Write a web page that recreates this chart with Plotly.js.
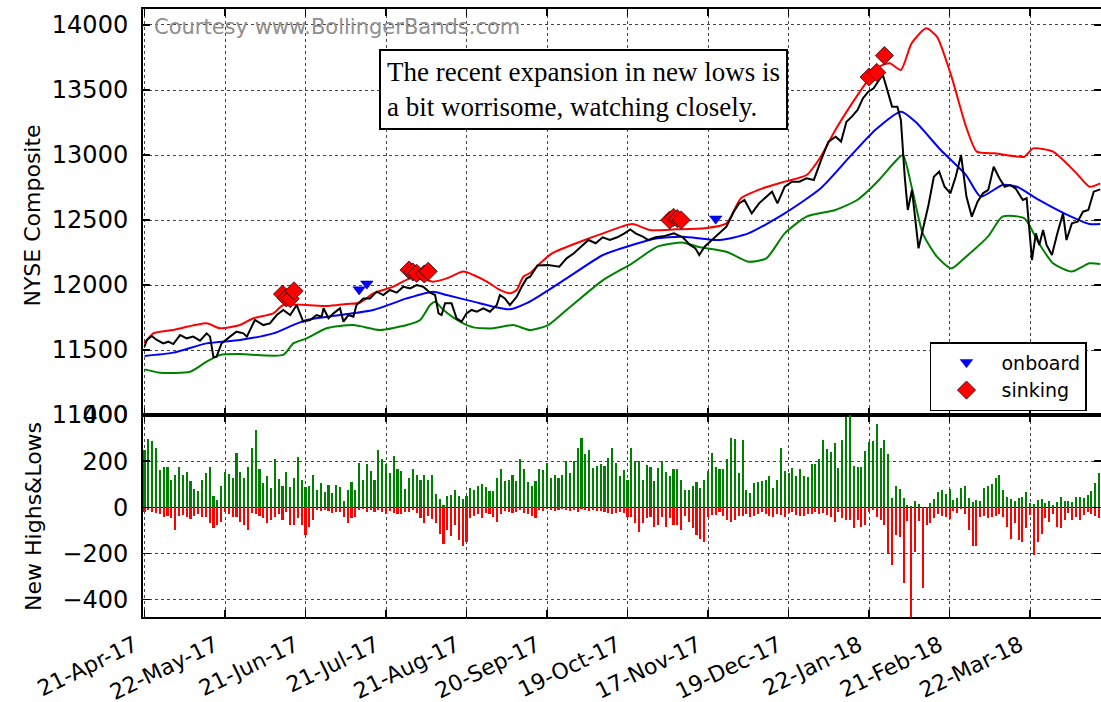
<!DOCTYPE html>
<html>
<head>
<meta charset="utf-8">
<script src="https://cdn.plot.ly/plotly-3.0.1.min.js"></script>
<style>
html,body{margin:0;padding:0;overflow:hidden;background:#fff;}
#chart{width:1110px;height:702px;}
</style>
</head>
<body>
<div id="chart"></div>
<script>
// ---- tick labels (trading-day index -> date label) ----
const tickIdx = [0, 21, 42, 63, 84, 105, 126, 147, 168, 189, 210, 231];
const tickLabels = ["21-Apr-17","22-May-17","21-Jun-17","21-Jul-17","21-Aug-17","20-Sep-17",
                    "19-Oct-17","17-Nov-17","19-Dec-17","22-Jan-18","21-Feb-18","22-Mar-18"];

// ---- NYSE Composite close (read at trading-day positions) ----
const priceX = [0,0.6,1.9,3.2,4.9,6.2,7.5,9.3,11,12.7,14.5,16.2,17.1,18,18.8,20.1,22.3,24,25.8,26.7,
28.8,31,32.7,34.5,36.2,38,39.7,40.6,41.4,43.2,44.9,46.2,46.7,48,49.3,51,51.9,53.2,54.5,55.3,
57.1,58.8,60.6,62.3,64,65.8,67.5,69.3,71,72.7,74.5,75.8,76.7,77.5,78.4,80.1,81.4,82.7,84,85.3,
86.7,88.4,90.1,91.9,92.7,94,95.3,97.1,98.4,99.7,100.6,102.5,105.3,108.2,110.1,112,113.9,115.8,117.7,119.5,
121.4,123.3,125.2,126.7,128.1,130,131.4,133.3,135.7,138.1,140.4,142.3,143.7,144.7,146.1,148,149.9,151.8,153.7,155.1,
156.5,158.4,160.3,162.2,163.7,165.1,167,168.9,170.8,172.7,174.6,176.5,178.4,180.3,181.7,183.1,184.5,186,187.4,188.8,
190.2,191.6,192.6,193.5,195,196.4,197.3,198.3,199.1,200.2,201.9,203,204.5,205.9,207.3,208.7,210.2,211.6,213,214.4,
215.8,217.3,218.7,220.1,221.5,223,224.4,225.8,227.2,229.1,230.1,231.5,232.5,233.4,234.4,235.3,236.7,238.1,239.6,240.5,
241.9,243.4,244.8,246.2,247.6,249.3];
const priceY = [11526,11577,11608,11577,11551,11564,11546,11615,11590,11603,11572,11628,11603,11444,11449,11551,11603,11641,11628,11603,
11731,11692,11705,11769,11808,11769,11846,11782,11718,11731,11769,11756,11821,11744,11782,11821,11718,11769,11756,11846,
11897,11897,11949,11923,11962,11941,11987,11974,12000,11987,11941,11923,11782,11769,11859,11859,11744,11718,11782,11808,
11795,11821,11795,11846,11923,11897,11846,11910,11987,12051,12064,12150,12154,12141,12205,12244,12295,12346,12321,12367,
12346,12367,12397,12428,12397,12372,12346,12367,12377,12397,12367,12308,12282,12231,12295,12346,12397,12449,12564,12628,
12654,12551,12628,12680,12718,12628,12756,12795,12795,12821,12808,12962,13103,13141,13103,13256,13295,13346,13436,13487,
13513,13577,13615,13526,13372,13372,13269,12833,12577,12731,12282,12423,12615,12833,12872,12756,12705,12833,13000,12680,
12526,12641,12705,12731,12910,12821,12756,12769,12744,12654,12667,12192,12397,12308,12423,12308,12231,12397,12551,12346,
12474,12487,12564,12577,12718,12736];

// ---- Bollinger bands ----
const upperX = [0,2.3,7.5,16.2,19.7,24.9,28.4,33.6,36.2,42.3,47.5,52.7,56.2,59.7,64.9,69.3,73.6,75.3,78.8,83.2,
85.8,89.3,92.7,95.3,97.1,98.8,100.5,103.2,106.3,114.8,119.6,127.2,131.9,138.5,146.1,151.8,155.6,161.3,167,172.7,
176.4,180.2,184,187.8,191.6,194.4,197.3,200.1,203.9,206.7,210.5,214.3,217.1,221.9,229.5,231.8,237,242.7,246.5,249.3];
const upperY = [11551,11628,11654,11705,11667,11692,11744,11782,11846,11846,11838,11854,11864,11936,11987,12051,12038,12026,12051,12103,
12077,12026,11962,11936,11962,12064,12090,12167,12244,12346,12397,12469,12423,12428,12436,12474,12667,12744,12795,12846,
12987,13192,13372,13538,13679,13705,13654,13859,13974,13910,13603,13218,13026,13013,12987,13051,13026,12872,12756,12782];

const midX = [0,7.5,16.2,24.9,33.6,38.8,42.3,51,59.7,68.4,75.3,78.8,85.8,91,95.3,99.7,103.2,110.1,119.6,127.2,
133.8,140.5,150,157.5,167,176.4,184,190.6,197.3,201.1,207.7,214.3,218.1,223.8,227.6,233.3,239.9,246.5,249.3];
const midY = [11454,11480,11551,11577,11628,11692,11731,11769,11808,11897,11949,11923,11872,11833,11813,11860,11920,12051,12231,12308,
12359,12372,12346,12397,12551,12744,12987,13192,13333,13256,13038,12846,12680,12769,12756,12654,12551,12469,12469];

const lowerX = [0,4,11.9,16.2,19.7,24.9,36.2,38.8,42.3,47.5,54.5,61.4,68.4,71.9,74.5,75.8,78,82.3,85.8,91,
96.2,100.5,105.3,110.1,119.6,127.2,133.8,140.5,144.3,151.8,157.5,162.2,167,172.7,180.2,185.9,191.6,195.4,197.8,200.1,
203,206.7,210.5,214.3,220,223.8,229.5,233.3,237,241.8,246.5,249.3];
const lowerY = [11351,11326,11333,11410,11462,11469,11462,11551,11590,11667,11692,11654,11692,11731,11846,11872,11808,11718,11674,11667,
11692,11654,11692,11808,12038,12167,12295,12326,12295,12256,12179,12205,12397,12526,12577,12654,12808,12936,13000,12756,
12397,12218,12128,12218,12372,12526,12513,12321,12167,12103,12167,12162];

// ---- signals ----
const onboardX = [56, 58, 149];
const onboardY = [11965, 12010, 12510];
const sinkingX = [36, 37, 38, 39, 69, 70, 71, 73, 74, 137, 138, 139, 140, 189, 191, 193];
const sinkingY = [11930, 11900, 11895, 11955, 12115, 12100, 12090, 12085, 12105, 12500, 12520, 12510, 12500, 13600, 13635, 13765];

// ---- new highs / new lows (one per trading day, index 0..249) ----
const newHighs = [249,296,286,259,160,176,176,117,142,176,
139,154,116,81,69,120,147,176,47,32,
94,152,145,127,237,152,127,176,259,337,
164,105,135,84,208,123,94,152,88,127,
218,117,88,91,142,76,105,64,98,62,
98,88,29,76,108,73,190,117,186,157,
117,249,211,186,149,223,164,157,81,127,
164,138,117,142,117,142,59,35,10,50,
51,76,50,35,50,84,76,91,103,88,
69,69,127,164,113,120,142,113,208,164,
108,94,113,164,161,193,127,142,127,142,
201,149,201,259,299,230,249,171,179,186,
179,215,259,193,135,160,120,255,201,201,
117,182,176,113,171,201,154,135,167,167,
117,73,76,94,108,84,117,157,237,176,
164,164,211,299,296,149,293,76,62,105,
108,113,117,135,84,120,259,157,149,171,
135,167,135,132,186,186,211,293,252,240,
278,171,293,391,400,180,176,176,245,284,
289,362,259,293,230,40,91,79,40,10,
6,25,15,3,3,18,35,64,76,59,
79,32,40,84,94,40,21,32,25,84,
91,103,127,142,76,44,35,29,40,44,
64,18,15,32,35,18,29,10,21,44,
25,29,21,44,44,40,54,69,105,149];
const newLows = [-19,-12,-19,-26,-29,-41,-38,-48,-97,-38,
-34,-41,-53,-38,-30,-44,-44,-70,-92,-78,
-63,-19,-29,-41,-44,-63,-78,-97,-26,-29,
-38,-48,-70,-56,-41,-29,-56,-19,-78,-78,
-48,-78,-122,-85,-56,-12,-15,-12,-15,-26,
-19,-19,-41,-70,-48,-44,-12,-9,-19,-12,
-19,-12,-19,-29,-15,-23,-29,-29,-19,-19,
-12,-26,-48,-67,-38,-53,-70,-117,-158,-100,
-126,-78,-144,-166,-151,-48,-38,-29,-48,-26,
-29,-41,-63,-29,-15,-19,-26,-19,-12,-26,
-29,-38,-48,-12,-15,-9,-12,-15,-12,-9,
-12,-15,-12,-19,-9,-12,-15,-12,-15,-15,
-19,-26,-29,-23,-19,-23,-41,-44,-70,-107,
-70,-48,-41,-85,-78,-44,-85,-48,-78,-78,
-100,-38,-63,-92,-122,-136,-151,-41,-34,-34,
-19,-38,-56,-63,-56,-38,-38,-29,-41,-38,
-29,-19,-29,-38,-41,-29,-34,-44,-26,-19,
-34,-38,-38,-29,-29,-19,-29,-26,-34,-44,
-63,-19,-48,-56,-56,-92,-56,-85,-78,-19,
-12,-41,-56,-78,-200,-250,-120,-130,-330,-60,
-480,-195,-60,-350,-78,-70,-48,-29,-38,-41,
-53,-15,-26,-9,-29,-100,-170,-166,-41,-38,
-48,-41,-38,-29,-41,-85,-136,-70,-144,-151,
-92,-34,-209,-151,-114,-48,-63,-29,-85,-88,
-56,-26,-56,-41,-56,-34,-19,-29,-38,-48];
const dayIdx = newHighs.map((_, i) => i);

const FONT = "DejaVu Sans";

const traces = [
  {x: upperX, y: upperY, type: "scatter", mode: "lines", line: {color: "#ff0000", width: 2, shape: "spline", smoothing: 0.6}, showlegend: false, hoverinfo: "skip", xaxis: "x", yaxis: "y"},
  {x: midX, y: midY, type: "scatter", mode: "lines", line: {color: "#0000ff", width: 2, shape: "spline", smoothing: 0.6}, showlegend: false, hoverinfo: "skip", xaxis: "x", yaxis: "y"},
  {x: lowerX, y: lowerY, type: "scatter", mode: "lines", line: {color: "#008000", width: 2, shape: "spline", smoothing: 0.6}, showlegend: false, hoverinfo: "skip", xaxis: "x", yaxis: "y"},
  {x: priceX, y: priceY, type: "scatter", mode: "lines", line: {color: "#000000", width: 2}, showlegend: false, hoverinfo: "skip", xaxis: "x", yaxis: "y"},
  {x: onboardX, y: onboardY, type: "scatter", mode: "markers", name: "onboard",
   marker: {symbol: "triangle-down", size: 11, color: "#0000ff", line: {color: "#0000aa", width: 0.5}}, xaxis: "x", yaxis: "y"},
  {x: sinkingX, y: sinkingY, type: "scatter", mode: "markers", name: "sinking",
   marker: {symbol: "diamond", size: 14, color: "#ff0000", line: {color: "#000000", width: 0.7}}, xaxis: "x", yaxis: "y"},
  {x: dayIdx, y: newHighs, type: "bar", width: 0.55, marker: {color: "#008000", line: {width: 0}}, showlegend: false, hoverinfo: "skip", xaxis: "x2", yaxis: "y2"},
  {x: dayIdx, y: newLows, type: "bar", width: 0.55, marker: {color: "#ff0000", line: {width: 0}}, showlegend: false, hoverinfo: "skip", xaxis: "x2", yaxis: "y2"}
];

const axisCommon = {
  showline: true, linecolor: "#000", linewidth: 2, mirror: "ticks",
  ticks: "inside", ticklen: 7, tickwidth: 1.5, tickcolor: "#000",
  showgrid: true, gridcolor: "#444", gridwidth: 1, griddash: "dot",
  zeroline: false
};

const layout = {
  width: 1110, height: 702,
  margin: {l: 143, r: 9, t: 9, b: 85, pad: 0},
  paper_bgcolor: "#fff", plot_bgcolor: "#fff",
  font: {family: FONT, size: 22, color: "#000"},
  barmode: "overlay",
  bargap: 0,
  showlegend: true,
  hovermode: false,
  xaxis: Object.assign({}, axisCommon, {
    domain: [0, 1], anchor: "y", range: [-0.39, 249.5],
    tickmode: "array", tickvals: tickIdx, ticktext: tickLabels, showticklabels: false
  }),
  yaxis: Object.assign({}, axisCommon, {
    domain: [0.3322, 1], anchor: "x", range: [11000, 14123],
    tickmode: "array", tickvals: [11000, 11500, 12000, 12500, 13000, 13500, 14000],
    ticktext: ["11000","11500","12000","12500","13000","13500","14000"],
    tickfont: {family: FONT, size: 24, color: "#000"}, ticklabelstandoff: 8
  }),
  xaxis2: Object.assign({}, axisCommon, {
    domain: [0, 1], anchor: "y2", matches: "x", range: [-0.39, 249.5],
    tickmode: "array", tickvals: tickIdx, ticktext: tickLabels,
    tickangle: -26, tickfont: {family: FONT, size: 22, color: "#000"},
    ticklabelstandoff: 5, ticklabelshift: -10
  }),
  yaxis2: Object.assign({}, axisCommon, {
    domain: [0, 0.3322], anchor: "x2", range: [-476, 400],
    tickmode: "array", tickvals: [-400, -200, 0, 200, 400],
    ticktext: ["\u2212400", "\u2212200", "0", "200", "400"],
    tickfont: {family: FONT, size: 24, color: "#000"}, ticklabelstandoff: 8,
    zeroline: true, zerolinecolor: "#000", zerolinewidth: 1.5
  }),
  legend: {
    x: 0.8215, y: 0.4523, xanchor: "left", yanchor: "top",
    bgcolor: "#fff", bordercolor: "#000", borderwidth: 1.5,
    font: {family: FONT, size: 19, color: "#000"}, itemwidth: 60, tracegroupgap: 0
  },
  annotations: [
    {xref: "paper", yref: "paper", x: -0.115, y: 0.66, xanchor: "center", yanchor: "middle",
     text: "NYSE Composite", textangle: -90, showarrow: false, font: {family: FONT, size: 22, color: "#000"}},
    {xref: "paper", yref: "paper", x: -0.115, y: 0.166, xanchor: "center", yanchor: "middle",
     text: "New Highs&amp;Lows", textangle: -90, showarrow: false, font: {family: FONT, size: 22, color: "#000"}},
    {xref: "paper", yref: "paper", x: 0.0099, y: 0.9704, xanchor: "left", yanchor: "middle",
     text: "Courtesy www.BollingerBands.com", showarrow: false, font: {family: FONT, size: 21, color: "#8e8e8e"}},
    {xref: "paper", yref: "paper", x: 0.2463, y: 0.9342, xanchor: "left", yanchor: "top",
     text: "The recent expansion in new lows is<br>a bit worrisome, watching closely.", align: "left",
     showarrow: false, bgcolor: "#fff", bordercolor: "#000", borderwidth: 2, borderpad: 6,
     font: {family: "Liberation Serif", size: 27, color: "#000"}}
  ]
};

Plotly.newPlot("chart", traces, layout, {displayModeBar: false, staticPlot: true});
</script>
</body>
</html>
